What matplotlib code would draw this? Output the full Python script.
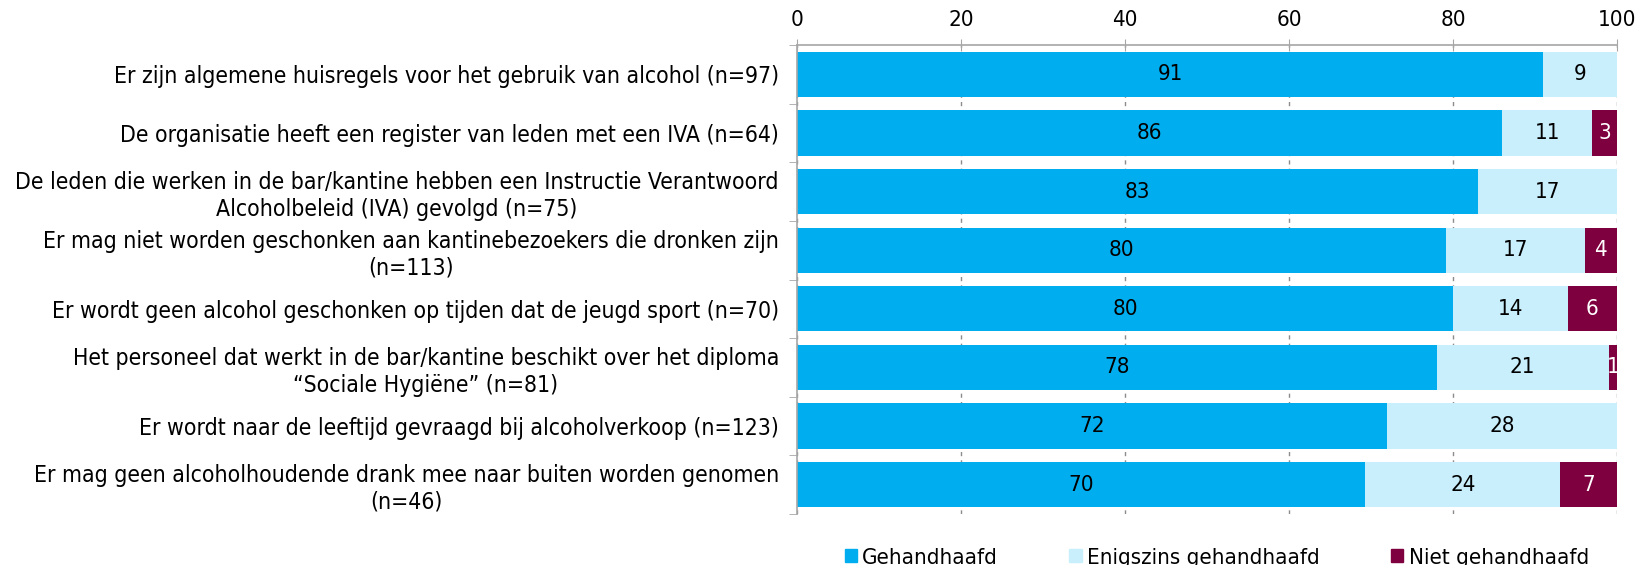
import numpy as np
import matplotlib.pyplot as plt
from matplotlib.patches import Patch

plt.rcParams['font.family'] = ['DejaVu Sans']
plt.rcParams['font.stretch'] = 'condensed'

categories = [
    "Er zijn algemene huisregels voor het gebruik van alcohol (n=97)",
    "De organisatie heeft een register van leden met een IVA (n=64)",
    "De leden die werken in de bar/kantine hebben een Instructie Verantwoord\nAlcoholbeleid (IVA) gevolgd (n=75)",
    "Er mag niet worden geschonken aan kantinebezoekers die dronken zijn\n(n=113)",
    "Er wordt geen alcohol geschonken op tijden dat de jeugd sport (n=70)",
    "Het personeel dat werkt in de bar/kantine beschikt over het diploma\n\u201cSociale Hygi\u00ebne\u201d (n=81)",
    "Er wordt naar de leeftijd gevraagd bij alcoholverkoop (n=123)",
    "Er mag geen alcoholhoudende drank mee naar buiten worden genomen\n(n=46)",
]
gehandhaafd = [91, 86, 83, 80, 80, 78, 72, 70]
enigszins = [9, 11, 17, 17, 14, 21, 28, 24]
niet = [0, 3, 0, 4, 6, 1, 0, 7]

series = ["Gehandhaafd", "Enigszins gehandhaafd", "Niet gehandhaafd"]
colors = ["#00AEEF", "#C9EEFC", "#7F003F"]
text_colors = ["black", "black", "white"]

data = np.array([gehandhaafd, enigszins, niet], dtype=float)
shares = data / data.sum(axis=0) * 100

fig = plt.figure(figsize=(16.51, 5.65), dpi=100)
ax = fig.add_axes([0.4827, 0.0903, 0.4967, 0.830])

y = np.arange(len(categories))
left = np.zeros(len(categories))
for i in range(3):
    ax.barh(y, shares[i], left=left, height=0.77, color=colors[i], zorder=2)
    for j in range(len(categories)):
        if data[i, j] > 0:
            ax.text(left[j] + shares[i, j] / 2, y[j], f"{int(data[i, j])}",
                    ha="center", va="center", fontsize=16, color=text_colors[i], zorder=3)
    left += shares[i]

ax.set_xlim(0, 100)
ax.set_ylim(len(categories) - 0.5, -0.5)
ax.xaxis.tick_top()
ax.set_xticks([0, 20, 40, 60, 80, 100])
ax.tick_params(axis="x", direction="inout", length=8, color="#A6A6A6", labelsize=16, pad=7)
ax.grid(axis="x", color="#8C8C8C", linestyle=(0, (3, 3)), linewidth=1.0, zorder=1)

ax.set_yticks(y)
ax.set_yticklabels(categories, fontsize=16.5)
ax.set_yticks(np.arange(len(categories) + 1) - 0.5, minor=True)
ax.tick_params(axis="y", which="major", length=0, pad=13)
ax.tick_params(axis="y", which="minor", length=6, color="#A6A6A6")
for lbl in ax.get_yticklabels():
    lbl.set_multialignment("center")

for side in ["right", "bottom"]:
    ax.spines[side].set_visible(False)
for side in ["top", "left"]:
    ax.spines[side].set_color("#A6A6A6")
    ax.spines[side].set_linewidth(1.2)

handles = [Patch(color=c, label=s) for c, s in zip(colors, series)]
fig.legend(handles=handles, loc="lower center", bbox_to_anchor=(0.737, -0.04), ncol=3,
           frameon=False, fontsize=16, handlelength=0.55, handleheight=0.55,
           handletextpad=0.25, columnspacing=3.2)

fig.savefig("out.png", dpi=100)
